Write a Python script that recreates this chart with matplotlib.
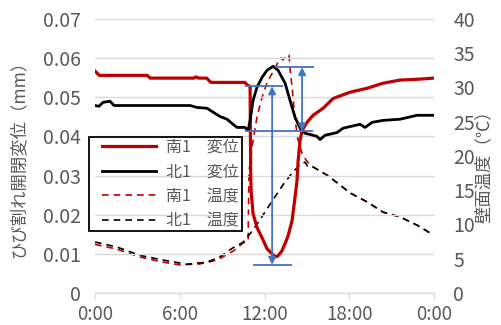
import numpy as np
import matplotlib
matplotlib.use("Agg")
import matplotlib.pyplot as plt
from matplotlib.patches import Rectangle

plt.rcParams['font.family'] = ['Noto Sans CJK JP', 'DejaVu Sans']

# displacement (mm), time in hours
south_disp_t = [0, 0.3, 3.7, 3.9, 7.0, 7.15, 7.35, 7.9, 8.2, 10.6, 10.8, 10.98,
                11.02, 11.05, 11.19, 11.47, 11.83, 12.18, 12.54, 12.75, 12.96,
                13.24, 13.53, 13.67, 13.95, 14.16, 14.3, 14.38, 14.52, 14.66,
                15.01, 15.44, 16.15, 16.86, 18.06, 19.26, 20.4, 21.6, 22.8, 24]
south_disp = [0.0567, 0.0556, 0.0556, 0.0549, 0.0549, 0.0552, 0.0549, 0.0549,
              0.0538, 0.0538, 0.0531, 0.0528, 0.0313, 0.0262, 0.0203, 0.0167,
              0.0141, 0.0113, 0.0100, 0.0092, 0.0095, 0.0108, 0.0133, 0.0146,
              0.0185, 0.0244, 0.0287, 0.0338, 0.0390, 0.0415, 0.0436, 0.0454,
              0.0472, 0.0497, 0.0513, 0.0523, 0.0536, 0.0544, 0.0546, 0.0549]

north_disp_t = [0, 0.28, 0.57, 1.06, 1.35, 6.73, 7.22, 7.93, 8.36, 8.85, 9.35,
                9.77, 10.06, 10.62, 10.84, 10.98, 11.19, 11.47, 11.83, 12.18,
                12.6, 12.96, 13.46, 13.81, 14.16, 14.52, 14.87, 15.23, 15.72,
                15.93, 16.29, 17.14, 17.56, 18.77, 19.12, 19.62, 20.4, 21.6,
                22.8, 24]
north_disp = [0.0479, 0.0477, 0.0487, 0.0490, 0.0479, 0.0479, 0.0474, 0.0472,
              0.0462, 0.0451, 0.0444, 0.0431, 0.0423, 0.0423, 0.0415, 0.0441,
              0.0492, 0.0526, 0.0551, 0.0569, 0.0579, 0.0569, 0.0536, 0.0492,
              0.0449, 0.0421, 0.0408, 0.0405, 0.0400, 0.0392, 0.0403, 0.0410,
              0.0421, 0.0431, 0.0423, 0.0436, 0.0441, 0.0444, 0.0454, 0.0454]

# wall surface temperature (deg C)
south_temp_t = [0, 1.56, 3.19, 4.82, 6.02, 7.44, 8.64, 9.77, 10.48, 10.84, 10.9,
                11.19, 11.47, 11.83, 12.18, 12.6, 12.96, 13.17, 13.31, 13.53,
                13.74, 13.81, 13.95, 14.16, 14.38, 14.66, 14.94, 15.23, 15.44,
                16.43, 17.14, 18.06, 19.26, 20.4, 21.6, 22.8, 23.94]
south_temp = [7.1, 6.4, 5.25, 4.5, 4.1, 4.25, 4.8, 6.1, 7.3, 7.6, 17.7, 22.3,
              25.7, 28.6, 30.7, 32.3, 33.7, 34.3, 34.0, 34.7, 34.7, 32.6, 30.1,
              25.3, 22.3, 20.4, 19.4, 18.7, 18.4, 17.2, 16.1, 14.6, 13.3, 11.8,
              11.1, 9.9, 8.5]

north_temp_t = [0, 1.56, 3.19, 4.82, 6.5, 7.93, 8.85, 9.77, 10.48, 11.19, 11.9,
                12.6, 13.31, 14.02, 14.52, 14.87, 15.08, 15.44, 16.43, 17.14,
                18.06, 19.26, 20.4, 21.6, 22.8, 23.94]
north_temp = [7.45, 6.7, 5.5, 4.8, 4.2, 4.5, 5.3, 6.6, 7.4, 9.2, 11.4, 13.6,
              15.8, 17.7, 18.7, 19.1, 18.4, 18.4, 17.2, 16.1, 14.6, 13.3, 11.8,
              11.1, 9.9, 8.5]

# amplitude annotations: (x hour, top mm, bottom mm)
south_arrow = (12.54, 0.0528, 0.0072)
north_arrow = (14.66, 0.0577, 0.0413)

x_ticks = [0, 6, 12, 18, 24]
x_labels = ['0:00', '6:00', '12:00', '18:00', '0:00']
legend_labels = ['南1\u3000変位', '北1\u3000変位', '南1\u3000温度', '北1\u3000温度']

gray = '#595959'
grid_c = '#d9d9d9'
blue = '#4472C4'

fig = plt.figure(figsize=(5.01, 3.25), dpi=100)
ax = fig.add_axes([95 / 501, 32 / 325, 339 / 501, 274 / 325])
ax2 = ax.twinx()

ax.set_xlim(0, 24)
ax.set_ylim(0, 0.07)
ax2.set_ylim(0, 40)
ax.set_xticks(x_ticks)
ax.set_xticklabels(x_labels)
ax.set_yticks(np.arange(0, 0.071, 0.01))
ax.set_yticklabels(['0'] + ['%.2f' % v for v in np.arange(0.01, 0.071, 0.01)])
ax2.set_yticks(range(0, 41, 5))

ax.grid(axis='y', color=grid_c, linewidth=1.0)
ax.set_axisbelow(True)
for a in (ax, ax2):
    for s in a.spines.values():
        s.set_visible(False)
ax.spines['bottom'].set_visible(True)
ax.spines['bottom'].set_color(grid_c)
ax.tick_params(axis='x', colors=gray, labelsize=13.5, length=4, color=grid_c, pad=4)
ax.tick_params(axis='y', colors=gray, labelsize=14, length=0, pad=10)
ax2.tick_params(axis='y', colors=gray, labelsize=14, length=0, pad=14)

# temperature lines on the right axis
ax2.plot(south_temp_t, south_temp, color='#C00000', lw=1.2, ls=(0, (4, 3)))
ax2.plot(north_temp_t, north_temp, color='black', lw=1.2, ls=(0, (4, 3)))

# displacement lines on the left axis, drawn above temperature
ax.set_zorder(ax2.get_zorder() + 1)
ax.patch.set_visible(False)
l1, = ax.plot(south_disp_t, south_disp, color='#C00000', lw=2.3)
l2, = ax.plot(north_disp_t, north_disp, color='black', lw=2.0)

# blue amplitude markers
for (xa, top, bot), ltop, lbot in [(south_arrow, (10.6, 13.3), (11.2, 13.95)),
                                   (north_arrow, (12.75, 15.5), (10.6, 15.45))]:
    ax.hlines(top, ltop[0], ltop[1], color=blue, lw=1.3)
    ax.hlines(bot, lbot[0], lbot[1], color=blue, lw=1.3)
    ax.annotate('', xy=(xa, bot), xytext=(xa, top),
                arrowprops=dict(arrowstyle='<|-|>', color=blue, lw=1.3,
                                mutation_scale=11, shrinkA=0, shrinkB=0))

# legend without its own frame; the frame is drawn as a rectangle
h3 = plt.Line2D([], [], color='#C00000', lw=1.2, ls=(0, (4, 3)))
h4 = plt.Line2D([], [], color='black', lw=1.2, ls=(0, (4, 3)))
leg = ax.legend([l1, l2, h3, h4], legend_labels,
                loc='upper left', bbox_to_anchor=(102 / 501, 1 - 139 / 325),
                bbox_transform=fig.transFigure, fontsize=11.5, frameon=False,
                handlelength=3.4, handletextpad=0.6,
                labelspacing=0.47, borderpad=0, borderaxespad=0)
for t in leg.get_texts():
    t.set_color(gray)
fig.patches.append(Rectangle((89 / 501, 1 - 231 / 325), 153 / 501, 94 / 325,
                             transform=fig.transFigure, fill=False,
                             edgecolor='black', lw=1.3, zorder=5))

fig.text(18 / 501, 1 - 155 / 325, 'ひび割れ開閉変位（mm）', rotation=90,
         ha='center', va='center', color=gray, fontsize=12.5)
fig.text(484 / 501, 1 - 162 / 325, '壁面温度（℃）', rotation=90,
         ha='center', va='center', color=gray, fontsize=12.5)

fig.savefig('out.png', dpi=100)
